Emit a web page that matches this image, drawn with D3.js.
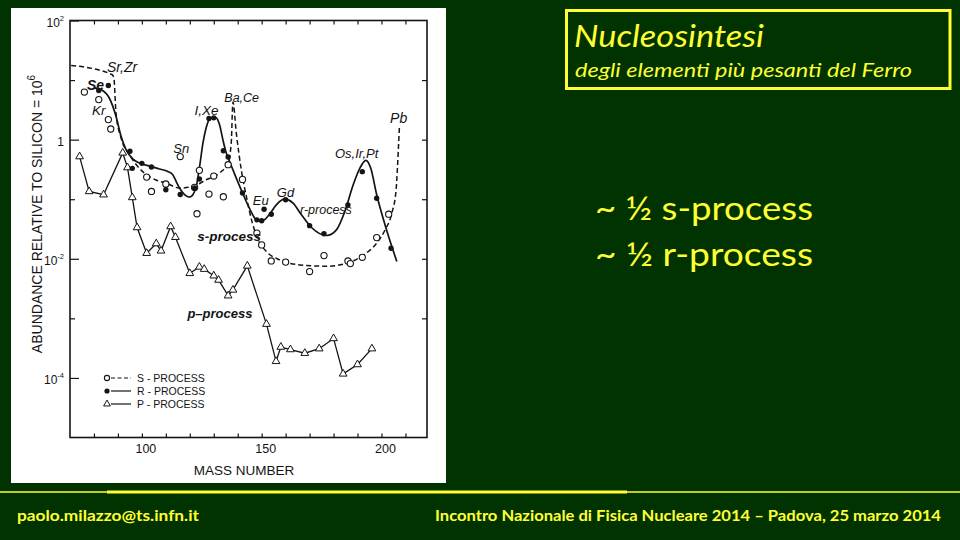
<!DOCTYPE html>
<html><head><meta charset="utf-8">
<script src="https://cdn.jsdelivr.net/npm/d3@7"></script>
<style>
html,body{margin:0;padding:0;background:#003300;}
svg{display:block;}
</style></head>
<body>
<svg id="c" width="960" height="540"></svg>
<script>
// ---------- DATA ----------
// p-process (triangles, joined by straight segments)
const pMass  = [74,78,84,92,94,96,98,102,106,108,112,114,120,124,126,130,132,136,138,144,152,156,158,162,168,174,180,184,190,196];
const pAbund = [0.52,0.135,0.119,0.60,0.34,0.107,0.0335,0.0124,0.018,0.0136,0.0348,0.023,0.0057,0.0073,0.0067,0.0052,0.0044,0.0024,0.0030,0.0076,0.0008,0.00019,0.00033,0.0003,0.00026,0.00031,0.00046,0.000117,0.000168,0.00031];
// s-process (open circles)
const sMass  = [76,82,86,87,102,104,110,116,122,123,124,128,130,134,136,142,148,150,154,160,170,176,186,187,192,198,203];
const sAbund = [6.3,4.7,2.17,1.51,0.235,0.135,0.18,0.52,0.158,0.057,0.305,0.122,0.245,0.11,0.38,0.215,0.027,0.0171,0.0092,0.0088,0.0061,0.0113,0.0092,0.0083,0.0106,0.0227,0.056];
// r-process (filled dots)
const rMass  = [82,86,95,96,100,104,110,116,122,124,128,130,134,136,142,148,150,151,154,160,170,176,186,192,198,204];
const rAbund = [6.7,8.1,0.64,0.33,0.40,0.347,0.144,0.12,0.154,0.218,2.26,2.32,0.65,0.51,0.127,0.045,0.0434,0.068,0.056,0.098,0.036,0.0263,0.08,0.29,0.104,0.015];
// drawn s-process curve (dashed)
const sCurveMass  = [70.5,87.5,88.3,89.2,91.3,94.8,101.0,105.9,110.1,115.7,121.3,126.8,132.4,135.9,137.3,138.0,139.4,141.5,143.6,146.1,148.5,152.0,157.5,165.9,177.1,185.4,192.4,198.0,201.5,204.3,206.1,207.1,207.5];
const sCurveAbund = [17.6,12.4,11.0,2.8,1.07,0.56,0.275,0.21,0.187,0.154,0.164,0.212,0.275,0.405,0.88,4.3,1.3,0.31,0.111,0.04,0.021,0.0132,0.0096,0.0079,0.0075,0.0084,0.0115,0.0183,0.0306,0.058,0.144,0.77,1.68];
// drawn r-process curve (solid)
const rCurveMass  = [80.0,83.0,86.4,89.2,91.3,93.4,96.2,99.0,103.8,107.3,110.8,112.9,114.3,115.7,117.8,119.9,121.3,122.7,124.1,125.5,126.8,128.9,131.0,132.4,133.8,135.2,136.6,139.4,142.2,145.0,147.8,150.3,153.3,156.1,159.6,163.1,166.6,170.8,177.1,181.2,184.7,188.2,191.0,193.5,195.5,198.0,201.5,206.4];
const rCurveAbund = [7.4,6.9,5.0,2.47,1.14,0.68,0.475,0.405,0.356,0.321,0.293,0.258,0.199,0.154,0.119,0.108,0.119,0.164,0.356,0.88,1.57,2.32,2.32,1.79,1.0,0.60,0.43,0.226,0.122,0.069,0.045,0.0434,0.056,0.0805,0.1,0.086,0.0547,0.0335,0.0246,0.0306,0.0622,0.175,0.333,0.449,0.333,0.119,0.037,0.009];
// axes
const xTickValues = [80,90,100,110,120,130,140,150,160,170,180,190,200,210];
const xTickLabels = [100,150,200];
const yMajorTicks = [1e2,1,1e-2,1e-4];
const yMajorLabels = [["10","2"],["1",""],["10","-2"],["10","-4"]];
const yMinorTicks = [1e1,1e-1,1e-3];
// annotations (text, mass, abundance anchor)
const annText  = ["Sr,Zr","Kr","Sn","I,Xe","Ba,Ce","Pb","Os,Ir,Pt","Eu","Gd","r-process","s-process","p\u2013process"];
const annMass  = [85.4,79.2,113.1,122.0,134.4,203.6,180.6,146.3,156.3,166.0,123.1,119.0];
const annAbund = [13.7,2.6,0.6,2.6,4.29,1.9,0.49,0.08,0.107,0.0565,0.0199,0.00101];
const legendLabels = ["S - PROCESS","R - PROCESS","P - PROCESS"];

// ---------- DRAW ----------
const W=960,H=540;
const svg=d3.select('#c');
const YEL='#ffff33';
svg.append('rect').attr('width',W).attr('height',H).attr('fill','#003300');

// chart image panel
svg.append('rect').attr('x',11).attr('y',8).attr('width',435).attr('height',475).attr('fill','#ffffff');

const x=d3.scaleLinear().domain([70,219]).range([70,427]);
const y=d3.scaleLog().domain([1e-5,1e2]).range([437.5,20.5]);
const INK='#141414';
const FONT='"Liberation Sans", Arial, sans-serif';
const g=svg.append('g').attr('font-family',FONT);

// frame
g.append('rect').attr('x',x(70)).attr('y',y(1e2))
  .attr('width',x(219)-x(70)).attr('height',y(1e-5)-y(1e2))
  .attr('fill','none').attr('stroke',INK).attr('stroke-width',1.6);

function styleAxis(sel){
  sel.select('.domain').remove();
  sel.selectAll('.tick line').attr('stroke',INK).attr('stroke-width',1.2);
}
// bottom
const xb=g.append('g').attr('transform',`translate(0,${y(1e-5)})`)
  .call(d3.axisBottom(x).tickValues(xTickValues).tickSize(-4).tickSizeOuter(0).tickPadding(7)
    .tickFormat(d=>xTickLabels.includes(d)?String(d):''));
styleAxis(xb);
xb.selectAll('.tick text').attr('fill',INK).attr('font-size',12.5).attr('font-family',FONT).attr('dx',3.5);
// top
const xt=g.append('g').attr('transform',`translate(0,${y(1e2)})`)
  .call(d3.axisTop(x).tickValues(xTickValues).tickSize(-4).tickSizeOuter(0).tickFormat(''));
styleAxis(xt);
// left major
const yl=g.append('g').attr('transform',`translate(${x(70)},0)`)
  .call(d3.axisLeft(y).tickValues(yMajorTicks).tickSize(-9).tickSizeOuter(0).tickFormat(''));
styleAxis(yl);
yl.selectAll('.tick').each(function(d,i){
  const t=d3.select(this).append('text').attr('x',-6).attr('y',6)
    .attr('text-anchor','end').attr('fill',INK).attr('font-size',12).attr('font-family',FONT);
  t.append('tspan').text(yMajorLabels[i][0]);
  if(yMajorLabels[i][1]) t.append('tspan').attr('dy',-6).attr('font-size',7.5).text(yMajorLabels[i][1]);
});
const ylm=g.append('g').attr('transform',`translate(${x(70)},0)`)
  .call(d3.axisLeft(y).tickValues(yMinorTicks).tickSize(-5).tickSizeOuter(0).tickFormat(''));
styleAxis(ylm);
// right
const yr=g.append('g').attr('transform',`translate(${x(219)},0)`)
  .call(d3.axisRight(y).tickValues(yMinorTicks.concat([1,1e-2])).tickSize(-5).tickSizeOuter(0).tickFormat(''));
styleAxis(yr);

// axis titles
const yt=g.append('text').attr('transform','translate(42,214) rotate(-90)')
  .attr('text-anchor','middle').attr('fill',INK).attr('font-size',14);
yt.append('tspan').text('ABUNDANCE  RELATIVE TO SILICON = 10');
yt.append('tspan').attr('dy',-7).attr('font-size',10).text('6');
g.append('text').attr('x',244).attr('y',475).attr('text-anchor','middle')
  .attr('fill',INK).attr('font-size',13.5).text('MASS  NUMBER');

// curves
const line=d3.line().x(d=>x(d[0])).y(d=>y(d[1]));
g.append('path').attr('d',line.curve(d3.curveMonotoneX)(d3.zip(sCurveMass,sCurveAbund)))
  .attr('fill','none').attr('stroke',INK).attr('stroke-width',1.5).attr('stroke-dasharray','5,3');
g.append('path').attr('d',line.curve(d3.curveMonotoneX)(d3.zip(rCurveMass,rCurveAbund)))
  .attr('fill','none').attr('stroke',INK).attr('stroke-width',1.7);
g.append('path').attr('d',line.curve(d3.curveLinear)(d3.zip(pMass,pAbund)))
  .attr('fill','none').attr('stroke',INK).attr('stroke-width',1.3);

// markers
const tri=d3.symbol().type(d3.symbolTriangle).size(26);
g.selectAll('.pm').data(d3.zip(pMass,pAbund)).join('path').attr('class','pm')
  .attr('d',tri).attr('transform',d=>`translate(${x(d[0])},${y(d[1])})`)
  .attr('fill','#fff').attr('stroke',INK).attr('stroke-width',1);
g.selectAll('.sm').data(d3.zip(sMass,sAbund)).join('circle').attr('class','sm')
  .attr('cx',d=>x(d[0])).attr('cy',d=>y(d[1])).attr('r',3.1)
  .attr('fill','#fff').attr('stroke',INK).attr('stroke-width',1.1);
g.selectAll('.rm').data(d3.zip(rMass,rAbund)).join('circle').attr('class','rm')
  .attr('cx',d=>x(d[0])).attr('cy',d=>y(d[1])).attr('r',2.7).attr('fill',INK);

// annotations
const annSize=[14,13.5,13,13.5,12.5,14,13,13,13,12.5,13.5,13];
annText.forEach((t,i)=>{
  g.append('text').attr('x',x(annMass[i])).attr('y',y(annAbund[i]))
    .attr('font-style','italic').attr('font-size',annSize[i]).attr('fill',INK)
    .attr('font-weight',(t==='s-process'||t==='p\u2013process')?'bold':'normal').text(t);
});
// bold "Se" next to its dot
g.append('text').attr('x',x(77.1)).attr('y',y(6.8)).attr('font-style','italic')
  .attr('font-weight','bold').attr('font-size',14).attr('fill',INK).text('Se');

// legend
const legY=[378,391,404];
const lx0=107, lx1=111, lx2=131, ltx=137;
legendLabels.forEach((lab,i)=>{
  const ln=g.append('line').attr('x1',lx1).attr('x2',lx2).attr('y1',legY[i]).attr('y2',legY[i])
    .attr('stroke',INK).attr('stroke-width',1.2);
  if(i===0) ln.attr('stroke-dasharray','4,2.5');
  if(i===0) g.append('circle').attr('cx',lx0).attr('cy',legY[i]).attr('r',2.6).attr('fill','#fff').attr('stroke',INK).attr('stroke-width',1.1);
  if(i===1) g.append('circle').attr('cx',lx0).attr('cy',legY[i]).attr('r',2.6).attr('fill',INK);
  if(i===2) g.append('path').attr('d',d3.symbol().type(d3.symbolTriangle).size(20)).attr('transform',`translate(${lx0},${legY[i]})`).attr('fill','#fff').attr('stroke',INK).attr('stroke-width',1);
  g.append('text').attr('x',ltx).attr('y',legY[i]+3.8).attr('font-size',10.5).attr('fill',INK).text(lab);
});

// ---------- SLIDE TEXT ----------
const SF='Lato, "Open Sans", sans-serif';
svg.append('rect').attr('x',566.5).attr('y',10.5).attr('width',383.5).attr('height',78)
  .attr('fill','none').attr('stroke',YEL).attr('stroke-width',3);
svg.append('text').attr('x',574).attr('y',47).attr('font-family',SF).attr('font-style','italic')
  .attr('font-size',30).attr('fill',YEL).attr('textLength',190).attr('lengthAdjust','spacingAndGlyphs').text('Nucleosintesi');
svg.append('text').attr('x',575).attr('y',77).attr('font-family',SF).attr('font-style','italic')
  .attr('font-size',19).attr('fill',YEL).attr('textLength',337).attr('lengthAdjust','spacingAndGlyphs').text('degli elementi più pesanti del Ferro');
svg.append('text').attr('x',595).attr('y',220).attr('font-family',SF)
  .attr('font-size',32).attr('fill',YEL).attr('textLength',218).attr('lengthAdjust','spacingAndGlyphs').text('~ ½ s-process');
svg.append('text').attr('x',595).attr('y',266).attr('font-family',SF)
  .attr('font-size',32).attr('fill',YEL).attr('textLength',218).attr('lengthAdjust','spacingAndGlyphs').text('~ ½ r-process');

// footer rules
svg.append('line').attr('x1',0).attr('x2',960).attr('y1',492).attr('y2',492).attr('stroke',YEL).attr('stroke-width',1.5);
svg.append('line').attr('x1',107).attr('x2',627).attr('y1',492).attr('y2',492).attr('stroke',YEL).attr('stroke-width',3);
svg.append('text').attr('x',17).attr('y',521).attr('font-family',SF).attr('font-weight','bold')
  .attr('font-size',15).attr('fill',YEL).attr('textLength',182).attr('lengthAdjust','spacingAndGlyphs').text('paolo.milazzo@ts.infn.it');
svg.append('text').attr('x',435).attr('y',521).attr('font-family',SF).attr('font-weight','bold')
  .attr('font-size',15).attr('fill',YEL).attr('textLength',506).attr('lengthAdjust','spacingAndGlyphs')
  .text('Incontro Nazionale di Fisica Nucleare 2014 \u2013 Padova, 25 marzo 2014');
</script>
</body></html>
